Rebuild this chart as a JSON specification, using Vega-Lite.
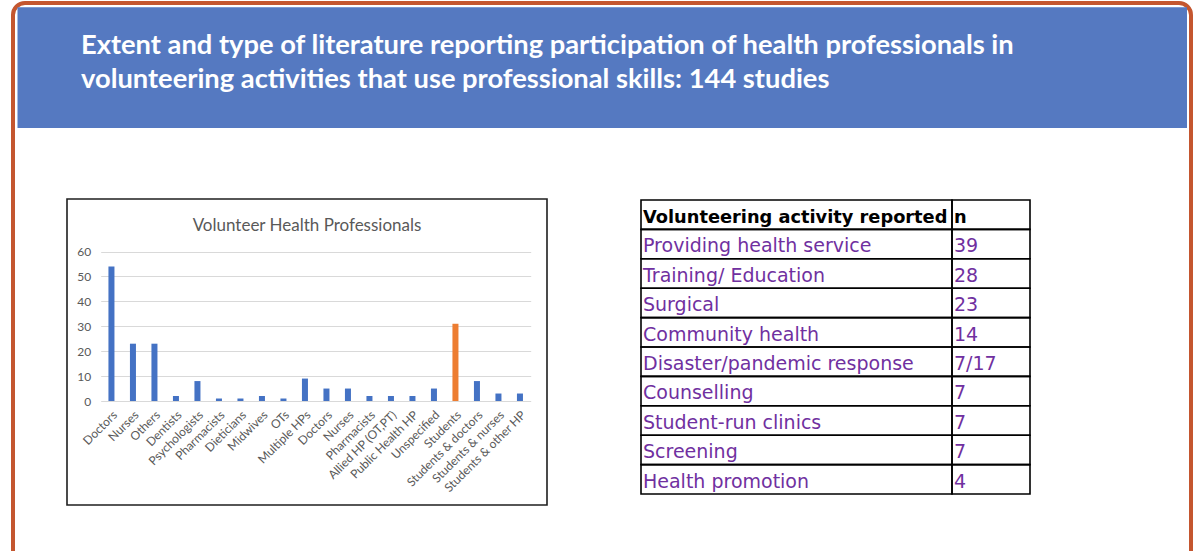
{
  "$schema": "https://vega.github.io/schema/vega-lite/v6.json",
  "description": "Slide: volunteering health professionals by type (bar chart) and volunteering activities reported (table).",
  "width": 1200,
  "height": 551,
  "autosize": {"type": "fit", "contains": "padding"},
  "padding": {"left": 13, "top": 3, "right": 9, "bottom": -12},
  "background": "white",
  "view": {"stroke": "#C4562F", "strokeWidth": 4, "cornerRadius": 12, "fill": "white"},
  "config": {"font": "Lato"},
  "datasets": {
    "heading": [
      {"line": 1, "text": "Extent and type of literature reporting participation of health professionals in"},
      {"line": 2, "text": "volunteering activities that use professional skills: 144 studies"}
    ],
    "professions": [
      {"profession": "Doctors", "studies": 54},
      {"profession": "Nurses", "studies": 23},
      {"profession": "Others", "studies": 23},
      {"profession": "Dentists", "studies": 2},
      {"profession": "Psychologists", "studies": 8},
      {"profession": "Pharmacists", "studies": 1},
      {"profession": "Dieticians", "studies": 1},
      {"profession": "Midwives", "studies": 2},
      {"profession": "OTs", "studies": 1},
      {"profession": "Multiple HPs", "studies": 9},
      {"profession": "Doctors ", "studies": 5},
      {"profession": "Nurses ", "studies": 5},
      {"profession": "Pharmacists ", "studies": 2},
      {"profession": "Allied HP (OT,PT)", "studies": 2},
      {"profession": "Public Health HP", "studies": 2},
      {"profession": "Unspecified", "studies": 5},
      {"profession": "Students", "studies": 31},
      {"profession": "Students & doctors", "studies": 8},
      {"profession": "Students & nurses", "studies": 3},
      {"profession": "Students & other HP", "studies": 3}
    ],
    "activities": [
      {"row": 0, "activity": "Volunteering activity reported", "n": "n"},
      {"row": 1, "activity": "Providing health service", "n": "39"},
      {"row": 2, "activity": "Training/ Education", "n": "28"},
      {"row": 3, "activity": "Surgical", "n": "23"},
      {"row": 4, "activity": "Community health", "n": "14"},
      {"row": 5, "activity": "Disaster/pandemic response", "n": "7/17"},
      {"row": 6, "activity": "Counselling", "n": "7"},
      {"row": 7, "activity": "Student-run clinics", "n": "7"},
      {"row": 8, "activity": "Screening", "n": "7"},
      {"row": 9, "activity": "Health promotion", "n": "4"}
    ]
  },
  "resolve": {
    "scale": {"x": "independent", "y": "independent"},
    "axis": {"x": "independent", "y": "independent"}
  },
  "layer": [
    {
      "data": {"values": [{"panel": "title band"}]},
      "mark": {"type": "rect", "color": "#5579C1"},
      "encoding": {
        "x": {"field": "panel", "type": "nominal", "axis": null,
              "scale": {"range": [4.5, 1174], "paddingInner": 0, "paddingOuter": 0}},
        "y": {"field": "panel", "type": "nominal", "axis": null,
              "scale": {"range": [4.3, 125], "paddingInner": 0, "paddingOuter": 0}}
      }
    },
    {
      "data": {"name": "heading"},
      "mark": {"type": "text", "align": "left", "baseline": "alphabetic", "font": "Lato",
               "fontWeight": "bold", "fontSize": 27.3, "color": "white"},
      "encoding": {
        "x": {"field": "line", "type": "ordinal", "axis": null,
              "scale": {"type": "point", "range": [68, 68], "padding": 0}},
        "y": {"field": "line", "type": "ordinal", "axis": null,
              "scale": {"type": "point", "range": [51.3, 84.5], "padding": 0}},
        "text": {"field": "text"}
      }
    },
    {
      "data": {"values": [{"panel": "chart frame"}]},
      "mark": {"type": "rect", "fill": null, "stroke": "#1f1f1f", "strokeWidth": 1.6},
      "encoding": {
        "x": {"field": "panel", "type": "nominal", "axis": null,
              "scale": {"range": [54, 534], "paddingInner": 0, "paddingOuter": 0}},
        "y": {"field": "panel", "type": "nominal", "axis": null,
              "scale": {"range": [196, 502], "paddingInner": 0, "paddingOuter": 0}}
      }
    },
    {
      "data": {"values": [{"title": "Volunteer Health Professionals"}]},
      "mark": {"type": "text", "align": "center", "baseline": "alphabetic", "font": "Lato",
               "fontSize": 17, "color": "#595959"},
      "encoding": {
        "x": {"field": "title", "type": "nominal", "axis": null,
              "scale": {"type": "point", "range": [294, 294], "padding": 0}},
        "y": {"field": "title", "type": "nominal", "axis": null,
              "scale": {"type": "point", "range": [227.7, 227.7], "padding": 0}},
        "text": {"field": "title"}
      }
    },
    {
      "data": {"name": "professions"},
      "mark": {"type": "bar"},
      "encoding": {
        "x": {
          "field": "profession", "type": "nominal", "sort": null,
          "scale": {"range": [87.7, 517.7], "paddingInner": 0.72, "paddingOuter": 0.36},
          "axis": {
            "orient": "bottom", "offset": {"expr": "398 - height"}, "title": null,
            "labelAngle": -45, "labelFont": "Lato", "labelFontSize": 12, "labelColor": "#595959",
            "labelPadding": 8, "ticks": false, "domain": false, "grid": false, "labelOverlap": false
          }
        },
        "y": {
          "field": "studies", "type": "quantitative",
          "scale": {"domain": [0, 60], "range": [398, 248.5], "nice": false, "zero": true},
          "axis": {
            "orient": "left", "offset": -87.7, "title": null, "values": [0, 10, 20, 30, 40, 50, 60],
            "grid": true, "gridColor": "#D9D9D9", "gridWidth": 1, "domain": false, "ticks": false,
            "labelFont": "Lato", "labelFontSize": 12, "labelColor": "#595959", "labelPadding": 10
          }
        },
        "color": {
          "condition": {"test": "datum.profession === 'Students'", "value": "#ED7D31"},
          "value": "#4472C4"
        }
      }
    },
    {
      "data": {"name": "activities"},
      "transform": [
        {"fold": ["activity", "n"], "as": ["column", "cell"]},
        {"filter": "datum.column === 'activity'"}
      ],
      "layer": [
        {
          "mark": {"type": "rect", "fill": null, "stroke": "black", "strokeWidth": 1.6},
          "encoding": {
            "x": {"field": "column", "type": "nominal", "axis": null,
                  "scale": {"range": [628, 939], "paddingInner": 0, "paddingOuter": 0}},
            "y": {"field": "row", "type": "ordinal", "axis": null,
                  "scale": {"range": [197, 491], "paddingInner": 0, "paddingOuter": 0}}
          }
        },
        {
          "transform": [{"filter": "datum.row === 0"}],
          "mark": {"type": "text", "align": "left", "baseline": "alphabetic", "dx": 2,
                   "font": "DejaVu Sans", "fontWeight": "bold", "fontSize": 17.8, "color": "black"},
          "encoding": {
            "x": {"field": "column", "type": "nominal", "bandPosition": 0},
            "y": {"field": "row", "type": "ordinal", "bandPosition": 0.78},
            "text": {"field": "cell"}
          }
        },
        {
          "transform": [{"filter": "datum.row > 0"}],
          "mark": {"type": "text", "align": "left", "baseline": "alphabetic", "dx": 2,
                   "font": "DejaVu Sans", "fontSize": 19, "color": "#7030A0"},
          "encoding": {
            "x": {"field": "column", "type": "nominal", "bandPosition": 0},
            "y": {"field": "row", "type": "ordinal", "bandPosition": 0.78},
            "text": {"field": "cell"}
          }
        }
      ]
    },
    {
      "data": {"name": "activities"},
      "transform": [
        {"fold": ["activity", "n"], "as": ["column", "cell"]},
        {"filter": "datum.column === 'n'"}
      ],
      "layer": [
        {
          "mark": {"type": "rect", "fill": null, "stroke": "black", "strokeWidth": 1.6},
          "encoding": {
            "x": {"field": "column", "type": "nominal", "axis": null,
                  "scale": {"range": [939, 1017], "paddingInner": 0, "paddingOuter": 0}},
            "y": {"field": "row", "type": "ordinal", "axis": null,
                  "scale": {"range": [197, 491], "paddingInner": 0, "paddingOuter": 0}}
          }
        },
        {
          "transform": [{"filter": "datum.row === 0"}],
          "mark": {"type": "text", "align": "left", "baseline": "alphabetic", "dx": 2,
                   "font": "DejaVu Sans", "fontWeight": "bold", "fontSize": 17.8, "color": "black"},
          "encoding": {
            "x": {"field": "column", "type": "nominal", "bandPosition": 0},
            "y": {"field": "row", "type": "ordinal", "bandPosition": 0.78},
            "text": {"field": "cell"}
          }
        },
        {
          "transform": [{"filter": "datum.row > 0"}],
          "mark": {"type": "text", "align": "left", "baseline": "alphabetic", "dx": 2,
                   "font": "DejaVu Sans", "fontSize": 19, "color": "#7030A0"},
          "encoding": {
            "x": {"field": "column", "type": "nominal", "bandPosition": 0},
            "y": {"field": "row", "type": "ordinal", "bandPosition": 0.78},
            "text": {"field": "cell"}
          }
        }
      ]
    }
  ]
}
